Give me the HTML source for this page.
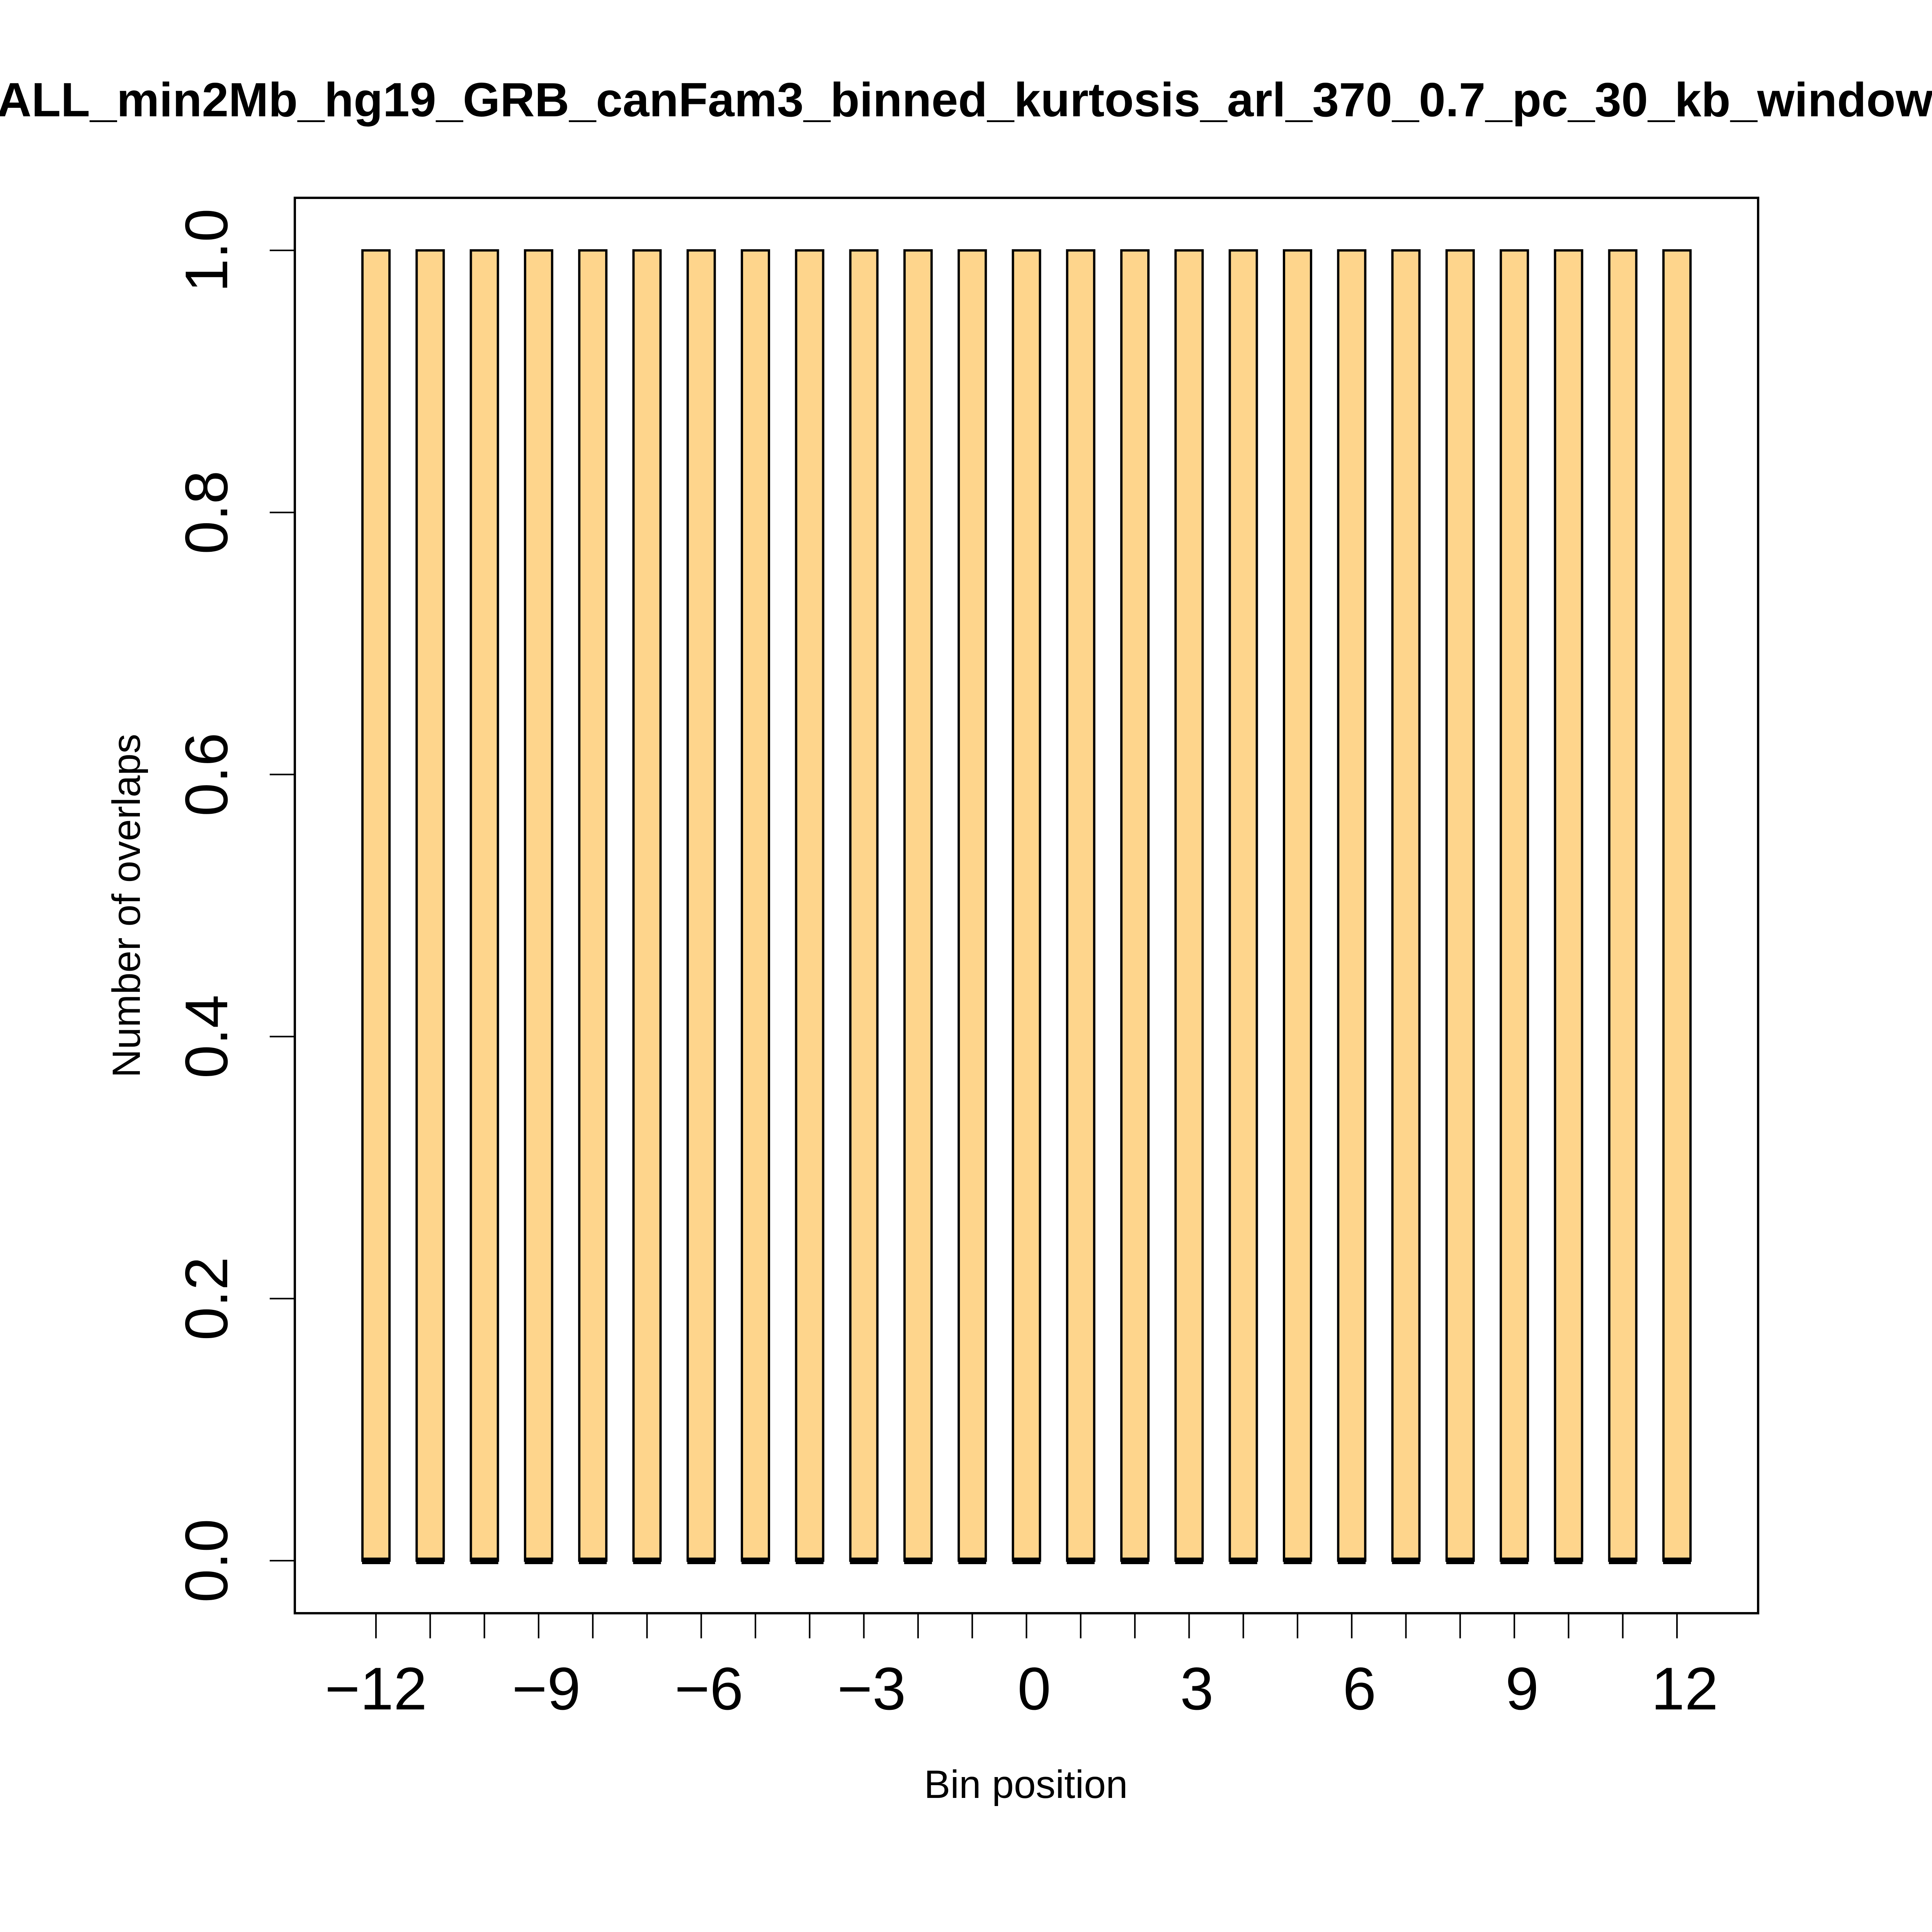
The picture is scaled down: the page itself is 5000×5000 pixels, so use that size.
<!DOCTYPE html>
<html><head><meta charset="utf-8"><style>
html,body{margin:0;padding:0;background:#fff;}
svg{display:block;}
text{font-family:"Liberation Sans",Arial,sans-serif;fill:#000;}
</style></head>
<body>
<svg id="chart" width="5000" height="5000" viewBox="0 0 5000 5000" xmlns="http://www.w3.org/2000/svg">
<rect width="5000" height="5000" fill="#fff"/>
<text x="-8" y="301" font-size="124" font-weight="bold">ALL_min2Mb_hg19_GRB_canFam3_binned_kurtosis_arl_370_0.7_pc_30_kb_windows</text>
<g id="bars"></g>
<g id="axes"></g>
<rect x="763" y="512" width="3787" height="3663" fill="none" stroke="#000" stroke-width="6"/>
<text x="2655" y="4653" font-size="102" text-anchor="middle">Bin position</text>
<text x="0" y="0" font-size="102" text-anchor="middle" transform="translate(362,2344) rotate(-90)">Number of overlaps</text>
</svg>
<script>
const categories = [-12,-11,-10,-9,-8,-7,-6,-5,-4,-3,-2,-1,0,1,2,3,4,5,6,7,8,9,10,11,12];
const values = [1,1,1,1,1,1,1,1,1,1,1,1,1,1,1,1,1,1,1,1,1,1,1,1,1];
const xTickLabels = [-12,-9,-6,-3,0,3,6,9,12];
const yTickLabels = [0,0.2,0.4,0.6,0.8,1.0];

const NS = "http://www.w3.org/2000/svg";
function xs(v){ return 973 + (v + 12) * (4340 - 973) / 24; }
function ys(v){ return 4039 - v * (4039 - 648); }
function mk(tag, attrs, parent){
  const e = document.createElementNS(NS, tag);
  for (const k in attrs) e.setAttribute(k, attrs[k]);
  parent.appendChild(e);
  return e;
}
const barsG = document.getElementById('bars');
const axesG = document.getElementById('axes');
const halfW = 35;
categories.forEach((c, i) => {
  const cx = xs(c);
  const y1 = ys(values[i]), y0 = ys(0);
  const r = mk('rect', {x: cx - halfW, y: Math.min(y0, y1), width: 2*halfW, height: Math.abs(y0 - y1), fill: '#fed58c', stroke: '#000', 'stroke-width': 6}, barsG);
  
  
  const b = mk('rect', {x: cx - 36, y: y0 - 8, width: 72, height: 17, fill: '#000'}, barsG);
  
  
});
categories.forEach(c => {
  const t = mk('line', {x1: xs(c), x2: xs(c), y1: 4175, y2: 4240, stroke: '#000', 'stroke-width': 4}, axesG);
  
  
});
xTickLabels.forEach(v => {
  const t = mk('text', {x: xs(v) + (v === -12 ? 0 : 20), y: 4424, 'font-size': 156, 'text-anchor': 'middle'}, axesG);
  t.textContent = v < 0 ? '\u2212' + Math.abs(v) : String(v);
  
  
});
yTickLabels.forEach(v => {
  const y = ys(v);
  const l = mk('line', {x1: 698, x2: 763, y1: y, y2: y, stroke: '#000', 'stroke-width': 4}, axesG);
  
  
  const t = mk('text', {x: 0, y: 0, 'font-size': 156, 'text-anchor': 'middle', transform: 'translate(588,' + y + ') rotate(-90)'}, axesG);
  t.textContent = v.toFixed(1);
  
  
});
</script>
</body></html>
